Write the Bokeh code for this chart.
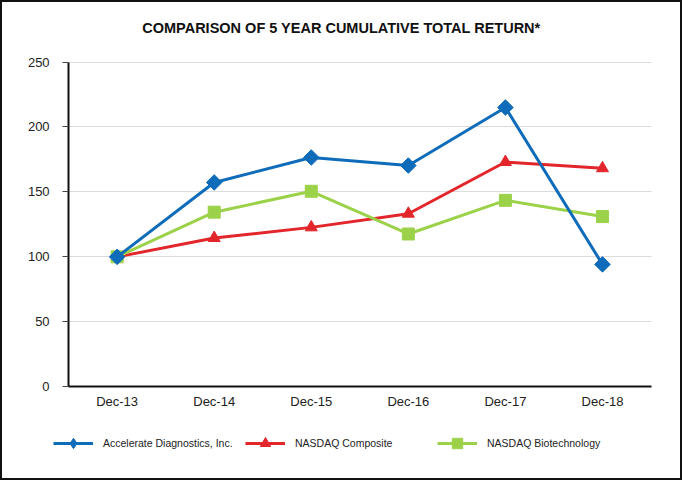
import math
from bokeh.plotting import figure
from bokeh.models import (Range1d, Legend, LegendItem, FixedTicker, Label,
                          LinearAxis, Grid)
from bokeh.embed import file_html
from bokeh.resources import INLINE

years = ["Dec-13", "Dec-14", "Dec-15", "Dec-16", "Dec-17", "Dec-18"]
accelerate = [100, 157.3, 176.5, 170.3, 215.0, 94.2]
nasdaq_composite = [100, 114.5, 122.7, 133.2, 173.0, 168.2]
nasdaq_biotech = [100, 134.4, 150.5, 117.6, 143.5, 131.0]
y_ticks = [0, 50, 100, 150, 200, 250]
series_names = ["Accelerate Diagnostics, Inc.", "NASDAQ Composite", "NASDAQ Biotechnology"]
title_text = "COMPARISON OF 5 YEAR CUMULATIVE TOTAL RETURN*"

BLUE = "#0F6CBA"
RED = "#E3262B"
GREEN = "#9CD24A"
FONT = "Liberation Sans"

# category slots on the x scale
x_pos = list(range(len(years)))
x_labels = dict(zip(x_pos, years))

# view window (layout): the frame covers the whole canvas so the title and
# legend can sit inside it; the axes are pinned at the plot-area edges.
X_VIEW = (-1.181, 5.845)
Y_VIEW = (-73.75, 295.85)
X_AXIS_SPAN = (-0.5, 5.5)
Y_AXIS_SPAN = (0, 250)
TITLE_Y = 276.4
TITLE_X_PX = 339

p = figure(width=682, height=480,
           x_range=Range1d(*X_VIEW), y_range=Range1d(*Y_VIEW),
           x_axis_type=None, y_axis_type=None,
           output_backend="svg", toolbar_location=None, min_border=0)
p.styles = {"border": "2px solid #111111", "box-sizing": "border-box"}
p.outline_line_color = None
p.background_fill_color = "white"
p.border_fill_color = "white"

# horizontal grid lines across the plot area only
grid = Grid(dimension=1, ticker=FixedTicker(ticks=y_ticks), bounds=Y_VIEW,
            cross_bounds=X_AXIS_SPAN, grid_line_color="#dcdcdc", grid_line_width=1)
p.add_layout(grid)

yaxis = LinearAxis(ticker=FixedTicker(ticks=y_ticks), bounds=Y_AXIS_SPAN,
                   fixed_location=X_AXIS_SPAN[0])
yaxis.minor_tick_line_color = None
yaxis.major_tick_in = 0
yaxis.major_tick_out = 6
yaxis.major_tick_line_color = "#444444"
yaxis.axis_line_color = "#111111"
yaxis.axis_line_width = 2
yaxis.major_label_standoff = 13

xaxis = LinearAxis(ticker=FixedTicker(ticks=x_pos), bounds=X_AXIS_SPAN,
                   fixed_location=Y_AXIS_SPAN[0], major_label_overrides=x_labels)
xaxis.minor_tick_line_color = None
xaxis.major_tick_line_color = None
xaxis.major_tick_out = 0
xaxis.major_tick_in = 0
xaxis.axis_line_color = "#111111"
xaxis.axis_line_width = 2
xaxis.major_label_standoff = 7
for ax in (xaxis, yaxis):
    ax.major_label_text_font = FONT
    ax.major_label_text_font_size = "13px"
    ax.major_label_text_color = "#222222"
p.add_layout(yaxis, "left")
p.add_layout(xaxis, "below")

# series (draw order: red, green, blue on top)
r_line = p.line(x_pos, nasdaq_composite, line_color=RED, line_width=3)
r_pts = p.scatter(x_pos, nasdaq_composite, marker="triangle", size=12,
                  fill_color=RED, line_color=RED)
g_line = p.line(x_pos, nasdaq_biotech, line_color=GREEN, line_width=3)
g_pts = p.scatter(x_pos, nasdaq_biotech, marker="square", size=12,
                  fill_color=GREEN, line_color=GREEN)
b_line = p.line(x_pos, accelerate, line_color=BLUE, line_width=3)
# diamond used for the legend swatch (sits fully under the rotated squares)
b_key = p.scatter(x_pos, accelerate, marker="diamond", size=9,
                  fill_color=BLUE, line_color=BLUE)
b_pts = p.scatter(x_pos, accelerate, marker="square", angle=math.pi / 4, size=11,
                  fill_color=BLUE, line_color=BLUE)

title = Label(x=TITLE_X_PX, y=TITLE_Y, x_units="screen", y_units="data", text=title_text,
              text_align="center", text_baseline="middle", text_font=FONT,
              text_font_style="bold", text_font_size="14.5px", text_color="#111111")
p.add_layout(title)

legend = Legend(items=[
    LegendItem(label=series_names[0], renderers=[b_line, b_key]),
    LegendItem(label=series_names[1], renderers=[r_line, r_pts]),
    LegendItem(label=series_names[2], renderers=[g_line, g_pts]),
], orientation="horizontal", location=(51, 26),
    glyph_width=40, glyph_height=26, label_standoff=10, label_width=130,
    spacing=12, padding=0, margin=0, border_line_color=None,
    background_fill_alpha=0, label_text_font=FONT,
    label_text_font_size="10.5px", label_text_color="#222222")
p.add_layout(legend, "center")

open("out.html", "w").write(file_html(p, INLINE))
